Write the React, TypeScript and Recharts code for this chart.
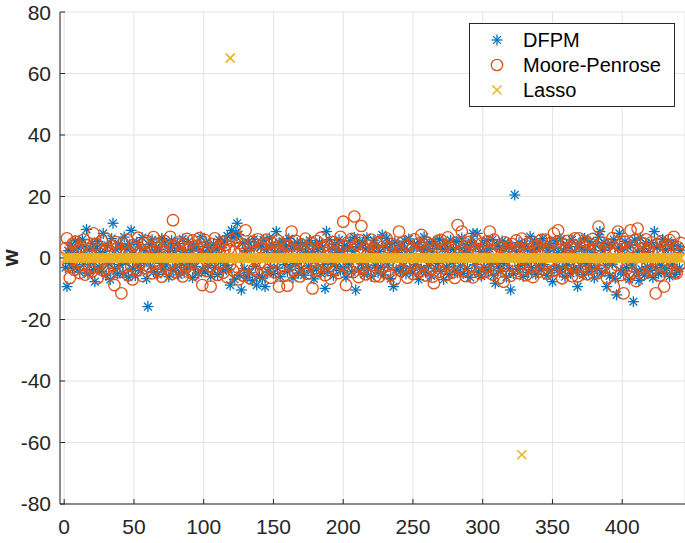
import React from 'react';
import { ScatterChart, Scatter, XAxis, YAxis, CartesianGrid, Label } from 'recharts';

// values per index (1..442)
const dfpmValues = [
  -3.1, -9.3, 2.4, -1.8, 4.2, -3.5, 1.2, 5.6, -2.7, 3.3, -4.6, 0.8, 6.1, -2.2, 3.9, 9.3, -5.1, 2.6, -1.4, 4.8,
  -3.8, -7.7, 3.1, 5.4, -2.9, 1.7, -4.3, 8.0, 2.2, -5.6, 4.1, -1.9, -7.0, 6.3, 11.3, -3.4, 2.8, -5.2, 4.6, -2.1,
  3.7, -4.9, 6.8, -1.6, 2.9, -6.2, 4.4, 9.0, -3.3, 1.5, -5.8, 5.1, -2.4, 3.6, -4.1, 6.6, -1.2, 2.3, -6.7, -15.8,
  4.3, -2.6, 5.9, -4.4, 1.8, 3.5, -5.3, 2.7, -1.7, 6.4, -3.6, 4.9, -2.3, 1.1, -6.1, 3.2, 5.7, -4.0, 2.1, -3.0,
  4.7, -5.5, 3.0, -2.0, 6.2, -4.7, 1.9, -3.2, 5.3, -1.5, 2.5, -6.4, 4.0, -2.8, 3.8, -5.0, 1.4, 6.9, -3.9, 2.0,
  -4.5, 5.0, -2.5, 3.4, -6.0, 1.6, 4.5, -3.1, 2.9, -5.4, 6.0, -1.3, 3.3, -4.2, 5.5, -2.4, 7.2, -3.7, -8.8, 9.0,
  6.7, -6.9, 8.2, 11.3, 7.6, -5.7, -10.4, 4.8, -3.5, 2.4, -6.3, 5.2, -4.8, 3.1, -7.4, 6.1, -2.7, -8.8, 4.2, -5.9,
  3.6, -6.6, 5.8, -9.3, 2.6, -4.6, 6.5, -3.0, 4.4, -5.1, 1.9, 8.6, -3.3, 4.9, -6.1, 2.3, 5.4, -2.1, 3.8, -4.4,
  6.3, -2.9, 3.2, -6.5, 4.1, -1.8, 5.0, -4.9, 2.7, -3.4, 4.6, -5.6, 1.6, 3.9, -2.6, 5.7, -4.1, 2.0, -6.8, 4.3,
  -3.6, 2.8, 5.1, -5.0, 3.5, -2.2, -9.9, 8.6, -4.3, 6.0, -1.6, 3.0, -5.7, 4.5, -2.8, 1.7, 5.9, -4.0, 2.4, -3.1,
  4.0, -6.2, 3.4, -2.0, 5.6, -4.5, 2.2, 6.7, -10.4, 3.7, -3.9, 5.3, -1.9, 4.7, -5.3, 2.9, 6.6, -3.2, 1.5, -6.0,
  3.3, 5.8, -2.5, 4.2, -4.7, 2.1, -3.0, 7.5, -5.5, 3.6, 6.4, -2.3, 4.8, -6.7, 2.5, -9.3, 5.2, -3.8, 1.8, 4.1,
  -4.2, 3.0, -2.7, 5.5, -5.2, 2.6, 6.2, -3.5, 1.4, -4.9, 4.4, -2.1, 3.7, -7.0, 5.0, -3.6, 2.3, 6.8, -4.6, 3.1,
  -2.4, 4.9, -5.8, 2.0, 5.3, -3.3, 3.9, -1.7, 6.1, -4.4, 2.7, -7.0, 4.6, -2.9, 3.2, -5.4, 5.8, -1.5, 2.8, -3.9,
  5.4, -4.8, 3.5, -2.6, 6.5, -5.0, 1.9, 4.3, -3.4, 2.4, -6.3, 5.1, 8.0, -2.2, 3.6, 8.0, -4.5, 2.1, -5.9, 4.7,
  -3.0, 2.6, 5.7, -4.1, 3.0, -2.0, 6.0, -5.6, -8.2, 4.0, -2.8, 3.3, -4.3, 5.5, -1.8, 2.9, -6.2, 4.6, -3.5, -10.4,
  3.4, -5.1, 20.5, 2.2, -3.7, 5.0, -2.4, 3.8, -6.0, 4.5, -1.6, 2.7, -4.7, 7.0, -3.1, 2.0, 5.2, -5.3, 3.1, -2.5,
  4.4, -3.9, 6.3, -2.1, 3.5, -5.7, 2.3, 4.8, -4.0, -7.7, 3.0, 5.6, -2.7, 1.7, -4.6, 6.2, -3.3, 2.5, -6.1, 4.1,
  -2.2, 3.7, -5.0, 5.9, -3.6, 2.0, -4.2, -9.3, 4.9, -2.6, 3.3, -5.5, 6.4, -1.9, 2.8, -4.4, 5.3, -3.0, 1.6, -6.5,
  4.2, -3.4, 6.7, 8.6, -4.9, 2.4, 5.1, -2.5, -9.3, 3.9, -5.8, 4.6, -2.0, 6.0, -6.6, -12.0, 3.2, 8.0, -4.1, 2.6,
  -5.2, 5.4, -3.1, 3.6, -6.9, 4.3, -2.3, -14.2, 5.8, -4.5, 2.2, -7.3, 6.5, -3.7, 3.0, -5.6, 4.7, -2.8, 2.1, -4.0,
  5.0, -6.4, 8.6, -3.2, 3.4, -5.1, 4.0, -2.4, 6.1, -4.8, 2.7, -3.5, 5.6, -6.0, 3.1, -2.0, 4.4, -5.3, -4.0, 3.8,
  -3.3, 2.5,
];

const moorePenroseValues = [
  3.2, 6.4, -2.5, -6.5, 1.9, 4.6, -3.8, 5.3, -1.6, 2.8, -4.9, 3.7, -2.2, 6.0, -5.4, 2.4, 4.1, -3.1, 1.5, -4.4,
  8.0, -2.8, 4.5, -6.5, 3.0, -1.9, 5.6, -4.1, 2.6, 6.3, -3.5, 1.8, -5.1, 4.0, -2.4, -8.8, 5.2, 3.3, -4.6, 2.1,
  -11.5, 4.8, -3.0, 2.9, 5.9, -5.6, 1.6, -2.6, -7.0, 4.3, 3.1, -4.0, 6.6, -1.7, 2.5, -5.8, 4.9, -3.3, 1.4, 5.4,
  -2.9, 3.6, -5.0, 6.8, -1.8, 2.2, 4.7, -4.3, 3.4, -6.1, 2.0, 5.5, -3.6, 4.2, -2.1, 6.9, -5.2, 12.3, 3.9, -4.7,
  2.7, 5.0, -3.9, 1.7, -6.0, 4.4, -2.3, 6.2, -4.5, 3.2, -1.5, 5.7, -5.3, 2.4, 4.0, -3.2, 6.5, -2.0, -8.8, 3.5,
  5.8, -4.2, 2.3, -2.7, -9.3, 4.6, -3.4, 6.4, 1.9, -5.5, 3.7, -1.6, 5.1, -4.8, 2.6, 4.3, -6.3, 3.0, -2.2, 5.9,
  -4.0, 2.1, 6.7, -3.0, -7.0, 4.8, 2.5, -5.7, 3.6, 9.0, -2.4, 1.7, -6.6, 4.1, 5.3, -3.7, 2.0, -4.4, 6.1, -1.9,
  3.4, -5.0, 4.7, -2.6, 6.0, -3.9, 2.2, -6.4, 5.0, 1.8, -4.6, 3.3, 5.7, -9.3, 2.4, -3.1, 4.5, -5.8, 3.8, -9.0,
  4.0, -2.5, 8.6, 2.9, -4.2, 5.6, -3.6, 1.6, -6.0, 4.4, 2.3, -2.8, 6.3, -5.1, 3.1, -1.7, 4.9, -9.9, 2.7, -3.4,
  5.5, -4.3, 2.0, 6.6, -2.9, 3.7, -5.6, 4.2, -1.8, 2.6, -6.7, 5.2, 3.0, -3.8, 1.5, 4.6, -4.9, 6.9, -2.3, 11.8,
  3.9, -8.8, 5.0, -3.3, 2.1, 6.2, -4.6, 13.5, 4.3, -2.7, -6.2, 5.7, 10.4, -3.5, 2.8, -5.3, 4.1, 1.9, -4.1, 6.0,
  -2.2, 3.5, -5.9, 4.8, 2.3, -6.0, 5.3, -3.0, 2.0, -4.7, 6.4, -2.5, 3.2, -5.5, 4.5, 1.7, -7.0, 3.6, -3.2, 8.6,
  -4.1, 2.5, 5.1, -2.8, 3.9, -6.4, 4.2, -1.6, 2.9, -5.2, 6.1, -3.6, 2.2, 4.7, -4.4, 7.5, -2.0, 3.4, -5.7, 5.0,
  2.4, -3.8, 4.4, -6.1, -8.2, 3.1, -2.4, 5.6, -4.5, 5.9, 2.1, -3.3, 4.0, -5.5, 6.7, -1.9, 3.3, -4.8, 2.6, -6.5,
  4.9, 10.7, -3.1, 2.3, 8.6, -4.3, 3.7, -5.9, 1.8, 5.2, -2.6, 4.3, -6.3, 2.8, 6.0, -3.7, 2.0, -5.0, 4.6, -2.1,
  3.0, -4.6, 5.4, -2.9, 8.6, 2.5, -5.4, 6.0, -3.4, 1.6, 4.1, -6.6, 3.5, -2.3, -7.7, 5.1, 2.7, -4.0, 3.8, -5.8,
  4.5, -2.7, 2.1, 5.7, -4.9, 3.2, -1.7, 6.3, -3.8, 2.4, -5.6, 4.7, 2.9, -3.0, 5.5, -6.2, 3.6, -2.4, 4.0, -4.5,
  2.6, 5.9, -3.5, 3.0, 6.0, -5.1, 2.2, -2.6, 4.9, -4.2, 8.0, -3.9, 5.2, 9.0, 2.7, -2.9, -6.6, 4.4, -4.7, 3.1,
  5.6, -2.2, 3.4, -5.9, 4.1, 6.4, -3.2, -6.0, 6.4, 2.0, -4.4, 3.9, -2.7, 5.3, -5.3, 2.5, 4.6, -3.6, 6.2, -2.0,
  3.7, -5.0, 10.2, 2.8, -4.1, 5.0, -2.5, 3.3, -6.4, 4.5, 2.0, -3.4, 6.5, -9.3, 2.9, -2.3, 8.6, 4.2, -5.5, 3.0,
  -11.5, 5.3, -3.7, 2.4, -6.0, 9.0, 3.6, -4.8, 5.9, -7.5, 9.6, 2.1, -3.1, 4.8, -5.2, 3.4, 6.1, -2.6, 2.6, -4.3,
  5.1, -3.8, 3.0, -11.5, 4.6, 2.2, -5.7, 5.4, -2.8, -9.3, 3.9, -4.0, 2.5, 5.8, -3.3, 4.2, 6.9, -4.6, -5.0, 3.5,
  -2.4, 4.9,
];

// Lasso sits on 0 everywhere except these two indices
const lassoSpikes = [
  { index: 119, value: 65 },
  { index: 328, value: -64 },
];

const xTicks = [0, 50, 100, 150, 200, 250, 300, 350, 400];
const yTicks = [-80, -60, -40, -20, 0, 20, 40, 60, 80];

const dfpmData = dfpmValues.map((y, i) => ({ x: i + 1, y }));
const mpData = moorePenroseValues.map((y, i) => ({ x: i + 1, y }));
const lassoData = dfpmValues.map((_, i) => {
  const spike = lassoSpikes.find((s) => s.index === i + 1);
  return { x: i + 1, y: spike ? spike.value : 0 };
});

const BLUE = '#0072BD';
const ORANGE = '#D95319';
const YELLOW = '#EDB120';
const AXIS = '#262626';
const FONT = '"Liberation Sans", Arial, sans-serif';

const Asterisk = ({ cx, cy }: any) => {
  const r = 5.5;
  const d = r * 0.7071;
  return (
    <g stroke={BLUE} strokeWidth={1.3}>
      <line x1={cx - r} y1={cy} x2={cx + r} y2={cy} />
      <line x1={cx} y1={cy - r} x2={cx} y2={cy + r} />
      <line x1={cx - d} y1={cy - d} x2={cx + d} y2={cy + d} />
      <line x1={cx - d} y1={cy + d} x2={cx + d} y2={cy - d} />
    </g>
  );
};

const Ring = ({ cx, cy }: any) => (
  <circle cx={cx} cy={cy} r={5.7} fill="none" stroke={ORANGE} strokeWidth={1.3} />
);

const Cross = ({ cx, cy }: any) => {
  const r = 4.5;
  return (
    <g stroke={YELLOW} strokeWidth={1.5}>
      <line x1={cx - r} y1={cy - r} x2={cx + r} y2={cy + r} />
      <line x1={cx - r} y1={cy + r} x2={cx + r} y2={cy - r} />
    </g>
  );
};

const tickStyle = { fontSize: 21, fill: AXIS, fontFamily: FONT };

const LegendBox = () => (
  <svg
    width={206}
    height={84}
    style={{ position: 'absolute', left: 469, top: 23 }}
  >
    <rect x={0.5} y={0.5} width={205} height={83} fill="#fff" stroke={AXIS} strokeWidth={1} />
    <Asterisk cx={28} cy={17} />
    <Ring cx={28} cy={42} />
    <Cross cx={28} cy={67} />
    <g fontFamily={FONT} fontSize={20} fill="#000">
      <text x={54} y={24}>DFPM</text>
      <text x={54} y={49}>Moore-Penrose</text>
      <text x={54} y={74}>Lasso</text>
    </g>
  </svg>
);

export default function App() {
  return (
    <div style={{ position: 'absolute', left: 0, top: 0, width: 685, height: 543, background: '#fff' }}>
      <ScatterChart width={685} height={543} margin={{ top: 12, right: 0, bottom: 9, left: 0 }}>
        <CartesianGrid stroke="#e3e3e3" strokeWidth={1} />
        <XAxis
          dataKey="x"
          type="number"
          domain={[-3, 445]}
          ticks={xTicks}
          allowDataOverflow
          height={30}
          tickSize={-5}
          tickMargin={20}
          stroke={AXIS}
          tick={tickStyle}
        />
        <XAxis
          xAxisId="top"
          orientation="top"
          type="number"
          domain={[-3, 445]}
          ticks={xTicks}
          allowDataOverflow
          height={0}
          tickSize={-5}
          tick={false}
          stroke={AXIS}
        />
        <YAxis
          dataKey="y"
          type="number"
          domain={[-80, 80]}
          ticks={yTicks}
          allowDataOverflow
          width={60}
          tickSize={-5}
          tickMargin={14}
          stroke={AXIS}
          tick={tickStyle}
        >
          <Label
            content={() => (
              <text
                x={18}
                y={258}
                transform="rotate(-90 18 258)"
                textAnchor="middle"
                fontFamily={FONT}
                fontSize={22}
                fontWeight="bold"
                fill={AXIS}
              >
                w
              </text>
            )}
          />
        </YAxis>
        <YAxis
          yAxisId="right"
          orientation="right"
          type="number"
          domain={[-80, 80]}
          ticks={yTicks}
          allowDataOverflow
          width={0}
          tickSize={-5}
          tick={false}
          stroke={AXIS}
        />
        <Scatter name="DFPM" data={dfpmData} shape={<Asterisk />} isAnimationActive={false} />
        <Scatter name="Moore-Penrose" data={mpData} shape={<Ring />} isAnimationActive={false} />
        <Scatter name="Lasso" data={lassoData} shape={<Cross />} isAnimationActive={false} />
      </ScatterChart>
      <LegendBox />
    </div>
  );
}
